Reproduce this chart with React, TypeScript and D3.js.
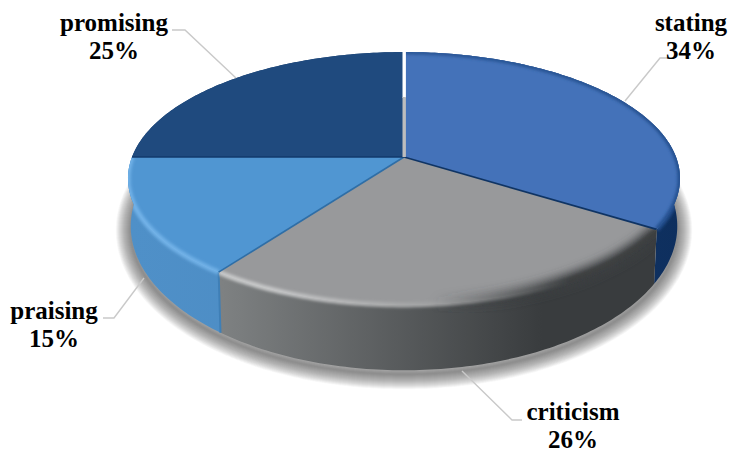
import React from "react";
import * as d3 from "d3";

const categories = ["stating", "criticism", "praising", "promising"];
const shares = [34, 26, 15, 25];

const topColors = ["#4472b9", "#98999b", "#5096d2", "#1f4a7e"];
const dividerColors = ["#0f3464", "#2f6ea6", "#123a6c", "#ffffff"];
const rimStops = [
  ["#2f5c9e", "#24508f"],
  ["#c6c7c8", "#3c3f41"],
  ["#72b2e8", "#66a6dc"],
  ["#1f4a7e", "#1f4a7e"],
];
const wallStops = [
  ["#1a4278", "#0e2f5e"],
  ["#808384", "#393c3e"],
  ["#4f90c8", "#4784bb"],
  ["#1a3f6e", "#1a3f6e"],
];

const labelSpots = [
  { x: 691, y: 31, lead: [[672, 58], [660, 58], [625, 101]] },
  { x: 573, y: 420, lead: [[522, 420], [512, 420], [462, 371]] },
  { x: 54, y: 319, lead: [[103, 318], [114, 318], [144, 278]] },
  { x: 114, y: 31, lead: [[172, 30], [185, 30], [236, 78]] },
];

const W = 738;
const H = 452;
const cx = 404;
const cy = 157;
const tilt = 0.17;
const halfX = 272;
const halfY = 122.8;
const depth = 45;

// Stroke widths stacked under the pie; their overlap builds a soft falloff.
const shadeWidths = d3.range(1, 31, 1);

// Perspective projection of a point on the pie's rim; level 0 is the top face, 1 the base.
function project(angle: number, level: number): [number, number] {
  const u = Math.sin(angle);
  const v = Math.cos(angle);
  const w = 1 + tilt * v;
  const shrink = 1 - 0.01 * level;
  const x = cx + (shrink * halfX * u) / w;
  const y = cy + (halfY * -v) / w + (level * depth) / (w * w);
  return [x, y];
}

function rim(a0: number, a1: number, level: number): [number, number][] {
  const n = Math.max(2, Math.ceil(Math.abs(a1 - a0) * 60));
  return d3.range(n + 1).map((i) => project(a0 + ((a1 - a0) * i) / n, level));
}

const line = d3.line();

const arcs = d3
  .pie<number>()
  .sort(null)
  .value((d) => d)(shares);

export default function App() {
  const fontFamily = "'Liberation Serif', serif";
  const paths = arcs.map((a) => {
    const top = rim(a.startAngle, a.endAngle, 0);
    const base = rim(a.startAngle, a.endAngle, 1);
    return {
      top: `${line(top)}L${cx},${cy}Z`,
      wall: `${line([...top, ...base.reverse()])}Z`,
      rimLine: line(top) as string,
    };
  });
  const shadow = `${line(rim(0, 2 * Math.PI, 1))}Z`;
  const seamTop = project(arcs[1].endAngle, 0);
  const seamBase = project(arcs[1].endAngle, 1);

  return (
    <svg
      width={W}
      height={H}
      viewBox={`0 0 ${W} ${H}`}
      style={{ position: "absolute", left: 0, top: 0, background: "#fff" }}
    >
      <defs>
        <filter id="rimBlur" x="-10%" y="-10%" width="120%" height="120%">
          <feGaussianBlur stdDeviation="1.6" />
        </filter>
        <filter id="wideBlur" x="-10%" y="-10%" width="120%" height="120%">
          <feGaussianBlur stdDeviation="4" />
        </filter>
        <linearGradient id="grayFade" gradientUnits="userSpaceOnUse" x1={130} x2={680} y1={0} y2={0}>
          <stop offset="0.55" stopColor="#3c3f41" stopOpacity={0} />
          <stop offset="0.8" stopColor="#3c3f41" stopOpacity={0.95} />
        </linearGradient>
        {categories.map((c, i) => (
          <React.Fragment key={c}>
            <linearGradient id={`wall${i}`} gradientUnits="userSpaceOnUse" x1={130} x2={680} y1={0} y2={0}>
              <stop offset={i === 1 ? "0.15" : "0"} stopColor={wallStops[i][0]} />
              <stop offset={i === 1 ? "0.75" : "1"} stopColor={wallStops[i][1]} />
            </linearGradient>
            <linearGradient id={`rim${i}`} gradientUnits="userSpaceOnUse" x1={130} x2={680} y1={0} y2={0}>
              <stop offset={i === 1 ? "0.25" : "0"} stopColor={rimStops[i][0]} />
              {i === 1 && <stop offset="0.55" stopColor="#a0a1a2" />}
              <stop offset={i === 1 ? "0.8" : "1"} stopColor={rimStops[i][1]} />
            </linearGradient>
            <clipPath id={`clip${i}`}>
              <path d={paths[i].top} />
              <path d={paths[i].wall} />
            </clipPath>
          </React.Fragment>
        ))}
      </defs>

      {/* Soft ground shadow, offset downward from the base of the pie. */}
      <g transform="translate(0,4)">
        {shadeWidths.map((sw) => (
          <path
            key={sw}
            d={shadow}
            fill="none"
            stroke="#555555"
            strokeOpacity={0.028}
            strokeWidth={sw}
            strokeLinejoin="round"
          />
        ))}
      </g>

      {arcs.map((_, i) => (
        <path key={categories[i]} d={paths[i].wall} fill={`url(#wall${i})`} />
      ))}
      <path d={`M${seamTop}L${seamBase}`} stroke="#3f7fb6" strokeWidth={2} fill="none" />

      {arcs.map((_, i) => (
        <path key={categories[i]} d={paths[i].top} fill={topColors[i]} />
      ))}

      {arcs.map((_, i) => (
        <g key={categories[i]} clipPath={`url(#clip${i})`}>
          {i === 1 && (
            <path
              d={paths[i].rimLine}
              fill="none"
              stroke="url(#grayFade)"
              strokeWidth={14}
              filter="url(#wideBlur)"
            />
          )}
          {i !== 3 && (
            <path
              d={paths[i].rimLine}
              fill="none"
              stroke={`url(#rim${i})`}
              strokeWidth={5}
              filter="url(#rimBlur)"
            />
          )}
        </g>
      ))}

      {arcs.map((a, i) => {
        const [x, y] = project(a.startAngle, 0);
        if (i === 0) return null;
        return (
          <path
            key={categories[i]}
            d={`M${cx},${cy}L${x},${y}`}
            stroke={dividerColors[i - 1]}
            strokeWidth={1.6}
            fill="none"
          />
        );
      })}

      {/* Narrow gap at twelve o'clock: open at the back, shaded toward the centre. */}
      <rect x={cx - 1.5} y={50} width={3.4} height={48} fill="#ffffff" />
      <rect x={cx - 1.5} y={97} width={3.4} height={60} fill="#bdbdbd" />

      {labelSpots.map((s, i) => (
        <polyline
          key={categories[i]}
          points={s.lead.join(" ")}
          fill="none"
          stroke="#c9c9c9"
          strokeWidth={1.4}
        />
      ))}

      {labelSpots.map((s, i) => (
        <text
          key={categories[i]}
          textAnchor="middle"
          fontFamily={fontFamily}
          fontWeight="bold"
          fontSize={25}
          fill="#000"
        >
          <tspan x={s.x} y={s.y}>
            {categories[i]}
          </tspan>
          <tspan x={s.x} y={s.y + 28}>
            {shares[i]}%
          </tspan>
        </text>
      ))}
    </svg>
  );
}
